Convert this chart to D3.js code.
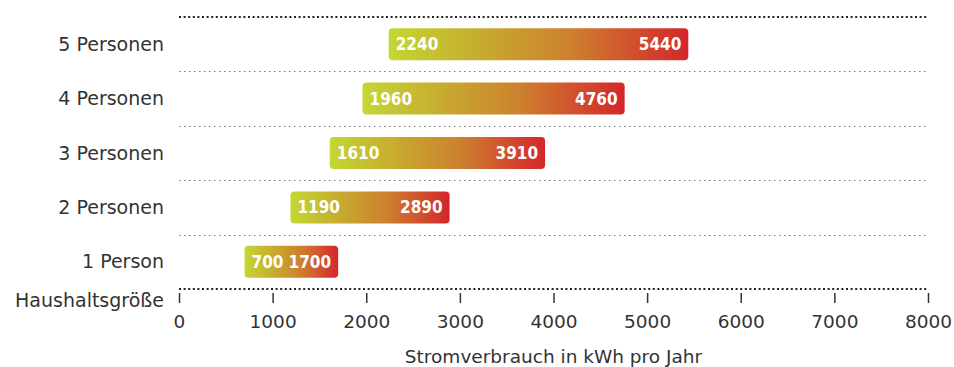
<!DOCTYPE html>
<html>
<head>
<meta charset="utf-8">
<script src="https://cdn.jsdelivr.net/npm/d3@7"></script>
<style>
  html, body { margin: 0; padding: 0; background: #fff; }
  svg { display: block; font-family: "DejaVu Sans", sans-serif; }
</style>
</head>
<body>
<svg id="chart" width="954" height="367"></svg>
<script>
// Household size categories, top to bottom
const categories = ["5 Personen", "4 Personen", "3 Personen", "2 Personen", "1 Person"];
// Annual electricity use range per household (kWh)
const lowValues  = [2240, 1960, 1610, 1190, 700];
const highValues = [5440, 4760, 3910, 2890, 1700];
const xTicks = [0, 1000, 2000, 3000, 4000, 5000, 6000, 7000, 8000];
const yAxisTitle = "Haushaltsgröße";
const xAxisTitle = "Stromverbrauch in kWh pro Jahr";

const svg = d3.select("#chart");
const margin = { left: 179, right: 26, top: 17, bottom: 78 };
const width = 954, height = 367;
const textColor = "#333";

const x = d3.scaleLinear().domain([0, 8000]).range([margin.left, width - margin.right]);
const y = d3.scaleBand().domain(categories).range([margin.top, height - margin.bottom]);

const rows = categories.map((c, i) => ({ cat: c, lo: lowValues[i], hi: highValues[i] }));

// Gradient applied across each bar's own box
const defs = svg.append("defs");
const grad = defs.append("linearGradient").attr("id", "barGrad")
  .attr("x1", "0%").attr("x2", "100%").attr("y1", "0%").attr("y2", "0%");
grad.append("stop").attr("offset", "0%").attr("stop-color", "#c3d733");
grad.append("stop").attr("offset", "30%").attr("stop-color", "#c7ac2f");
grad.append("stop").attr("offset", "60%").attr("stop-color", "#cd812e");
grad.append("stop").attr("offset", "100%").attr("stop-color", "#d4262c");

// Row separators (light dotted)
svg.append("g").selectAll("line")
  .data(categories.slice(1))
  .join("line")
  .attr("x1", x(0)).attr("x2", x(8000))
  .attr("y1", d => Math.round(y(d)) + 0.5).attr("y2", d => Math.round(y(d)) + 0.5)
  .attr("stroke", "#777").attr("stroke-width", 1)
  .attr("stroke-dasharray", "1.5 3.5");

// Top and bottom frame lines (dark dotted)
[y.range()[0], y.range()[1]].forEach(v => {
  svg.append("line")
    .attr("x1", x(0)).attr("x2", x(8000))
    .attr("y1", v).attr("y2", v)
    .attr("stroke", "#222").attr("stroke-width", 2)
    .attr("stroke-dasharray", "2 2.6");
});

// Bars
const barH = 32;
svg.append("g").selectAll("rect")
  .data(rows)
  .join("rect")
  .attr("x", d => x(d.lo))
  .attr("width", d => x(d.hi) - x(d.lo))
  .attr("y", d => y(d.cat) + y.bandwidth() / 2 - barH / 2)
  .attr("height", barH)
  .attr("rx", 4).attr("ry", 4)
  .attr("fill", "url(#barGrad)");

// Value labels inside bars
const labelG = svg.append("g")
  .attr("fill", "#fff").attr("font-size", 17).attr("font-weight", "bold")
  .attr("font-family", "'DejaVu Sans Condensed', 'DejaVu Sans', sans-serif");
labelG.selectAll("text.lo")
  .data(rows).join("text").attr("class", "lo")
  .attr("x", d => x(d.lo) + 7)
  .attr("y", d => y(d.cat) + y.bandwidth() / 2 + 6)
  .text(d => d.lo);
labelG.selectAll("text.hi")
  .data(rows).join("text").attr("class", "hi")
  .attr("x", d => x(d.hi) - 7)
  .attr("y", d => y(d.cat) + y.bandwidth() / 2 + 6)
  .attr("text-anchor", "end")
  .text(d => d.hi);

// Category axis
const yAxis = svg.append("g")
  .attr("transform", `translate(${margin.left - 15},0)`)
  .call(d3.axisLeft(y).tickSize(0).tickPadding(0));
yAxis.select(".domain").remove();
yAxis.selectAll("text").attr("font-size", 19).attr("fill", textColor)
  .attr("font-family", "'DejaVu Sans', sans-serif").attr("dy", "0.35em");

// Value axis
const xAxis = svg.append("g")
  .attr("transform", `translate(0,${y.range()[1] + 4})`)
  .call(d3.axisBottom(x).tickValues(xTicks).tickSize(10).tickPadding(12).tickFormat(d3.format("d")));
xAxis.select(".domain").remove();
xAxis.selectAll(".tick line").attr("stroke", textColor).attr("stroke-width", 1.5);
xAxis.selectAll("text").attr("font-size", 18.5).attr("fill", textColor)
  .attr("font-family", "'DejaVu Sans', sans-serif");

// Axis titles
svg.append("text")
  .attr("x", margin.left - 15).attr("y", y.range()[1] + 18)
  .attr("text-anchor", "end").attr("font-size", 19).attr("fill", textColor)
  .text(yAxisTitle);
svg.append("text")
  .attr("x", (x(0) + x(8000)) / 2).attr("y", 363)
  .attr("text-anchor", "middle").attr("font-size", 18.5).attr("fill", textColor)
  .text(xAxisTitle);
</script>
</body>
</html>
